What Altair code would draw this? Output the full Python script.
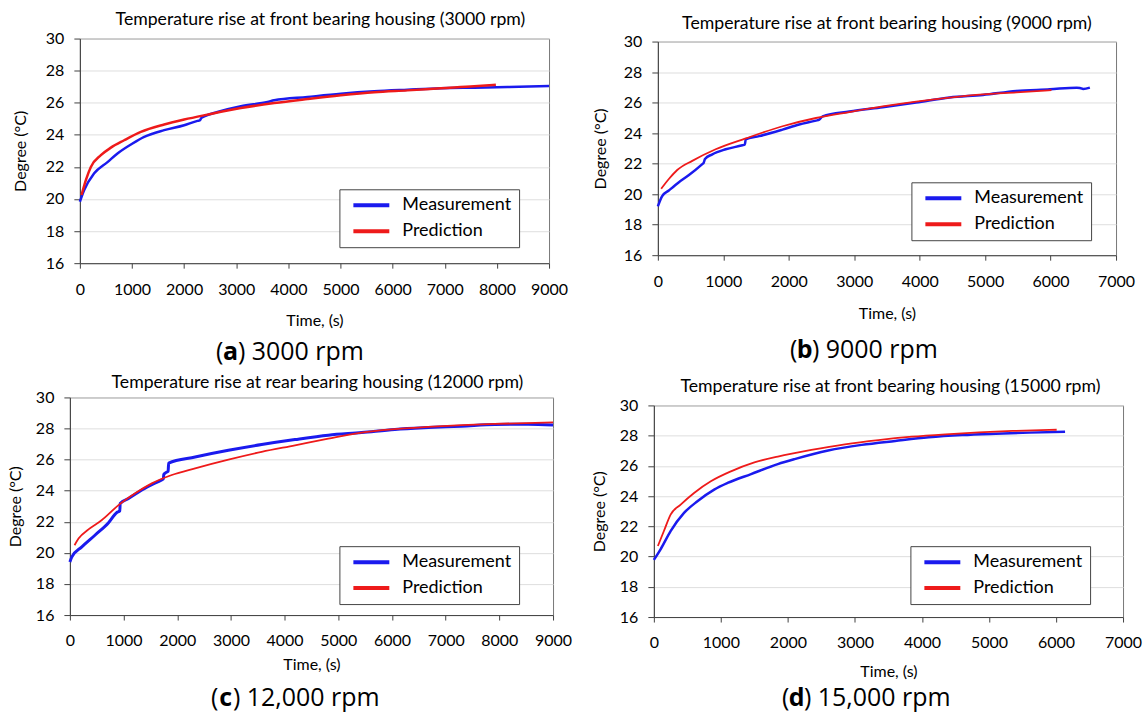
import altair as alt
import pandas as pd

SERIES = ["Measurement", "Prediction"]
COLORS = ["#1a1aee", "#ee1a1a"]

# ---------- (a) 3000 rpm ----------
a_meas_t = [0, 83, 275, 530, 722, 1010, 1234, 1617, 2001, 2257, 2300, 2330, 2385, 2640, 3088, 3600, 3728,
            4367, 5006, 5646, 6285, 6925, 7564, 8203, 9000]
a_meas_T = [19.83, 20.56, 21.6, 22.3, 22.84, 23.46, 23.87, 24.29, 24.6, 24.87, 24.9, 25.05, 25.15, 25.42,
            25.78, 26.05, 26.15, 26.36, 26.56, 26.71, 26.81, 26.9, 26.94, 26.98, 27.04]
a_pred_t = [32, 115, 211, 403, 595, 850, 1170, 1617, 2001, 2449, 3088, 3728, 4367, 5006, 5646, 6285,
            6925, 7564, 7980]
a_pred_T = [20.25, 21.18, 22.0, 22.73, 23.2, 23.66, 24.18, 24.64, 24.95, 25.26, 25.67, 25.98, 26.23,
            26.46, 26.65, 26.77, 26.9, 27.02, 27.12]

# ---------- (b) 9000 rpm ----------
b_meas_t = [0, 66, 168, 322, 475, 679, 700, 720, 832, 1036, 1291, 1330, 1342, 1547, 1904, 2159, 2415,
            2466, 2517, 2925, 3435, 3946, 4456, 4967, 5477, 5988, 6400, 6447, 6498, 6600]
b_meas_T = [19.2, 19.87, 20.24, 20.78, 21.25, 21.97, 22.05, 22.3, 22.61, 22.94, 23.2, 23.25, 23.59,
            23.8, 24.23, 24.56, 24.82, 24.88, 25.1, 25.42, 25.7, 26.0, 26.33, 26.5, 26.76, 26.87, 26.98,
            26.96, 26.89, 26.98]
b_pred_t = [51, 168, 296, 526, 883, 1342, 1904, 2415, 2925, 3435, 3946, 4456, 4967, 5477, 6013]
b_pred_T = [20.35, 20.99, 21.58, 22.18, 22.94, 23.65, 24.45, 24.99, 25.38, 25.75, 26.07, 26.33, 26.54,
            26.67, 26.82]

# ---------- (c) 12,000 rpm ----------
c_meas_t = [0, 37, 223, 471, 720, 875, 930, 937, 1092, 1340, 1712, 1740, 1750, 1805, 1830, 1840, 2333,
            2953, 3573, 4193, 4814, 5434, 6054, 6675, 7295, 7915, 8535, 9000]
c_meas_T = [19.42, 19.74, 20.39, 21.15, 21.94, 22.6, 22.7, 23.18, 23.5, 24.04, 24.7, 24.75, 25.05, 25.2,
            25.25, 25.78, 26.17, 26.6, 26.97, 27.29, 27.57, 27.74, 27.94, 28.06, 28.15, 28.26, 28.28,
            28.22]
c_pred_t = [87, 161, 347, 596, 906, 1216, 1526, 1898, 2333, 2953, 3573, 4193, 4814, 5434, 6054, 6675,
            7295, 7915, 9000]
c_pred_T = [20.49, 20.92, 21.51, 22.11, 23.07, 23.83, 24.47, 25.01, 25.44, 26.0, 26.5, 26.92, 27.35,
            27.74, 27.96, 28.11, 28.22, 28.3, 28.39]

# ---------- (d) 15,000 rpm ----------
d_meas_t = [0, 100, 250, 450, 650, 900, 1100, 1450, 1850, 2100, 2600, 3100, 3600, 4100, 4600, 5100,
            5600, 6135]
d_meas_T = [19.78, 20.48, 21.69, 22.89, 23.66, 24.43, 24.87, 25.46, 26.12, 26.45, 27.02, 27.39, 27.65,
            27.89, 28.04, 28.13, 28.2, 28.26]
d_pred_t = [60, 150, 250, 400, 600, 850, 1150, 1500, 1850, 2350, 2850, 3350, 3850, 4350, 4850, 5350,
            6010]
d_pred_T = [20.7, 21.69, 22.78, 23.44, 24.21, 24.98, 25.64, 26.23, 26.62, 27.06, 27.43, 27.71, 27.93,
            28.09, 28.22, 28.31, 28.39]

Y_TICKS = [16, 18, 20, 22, 24, 26, 28, 30]

FONT = "Lato"
CAP_FONT = "Open Sans"
CAP_SIZE = 25
HALF_LETTER = 7.3


def panel(mt, mT, pt, pT, title, xmax, w, h, lx, ly, lpad, toff, tdx, xtp, ytx, letter, rest, cx, cdy,
          mw, pw, guard=None):
    df = pd.DataFrame({
        "t": mt + pt,
        "T": mT + pT,
        "series": ["Measurement"] * len(mt) + ["Prediction"] * len(pt),
    })
    color = alt.Color(
        "series:N",
        scale=alt.Scale(domain=SERIES, range=COLORS),
        legend=alt.Legend(
            orient="none", legendX=lx, legendY=ly, title=None,
            strokeColor="#444444", fillColor="white", padding=7, cornerRadius=0,
            labelFont=FONT, labelFontSize=18, labelColor="black",
            labelExpr="datum.label + '" + lpad + "'",
            symbolType="M-1,0H5", symbolStrokeWidth=4, symbolSize=144, symbolOffset=4,
            rowPadding=8, labelOffset=34,
        ),
    )
    x = alt.X("t:Q", scale=alt.Scale(domain=[0, xmax], nice=False),
              axis=alt.Axis(values=list(range(0, xmax + 1, 1000)), format="d", title="Time, (s)",
                            titlePadding=xtp, grid=False, tickSize=5, labelPadding=13))
    y = alt.Y("T:Q", scale=alt.Scale(domain=[16, 30], nice=False, zero=False),
              axis=alt.Axis(values=Y_TICKS, format="d", title="Degree (°C)", grid=True, tickSize=6,
                            labelPadding=10, titleX=ytx))
    base = alt.Chart(df)
    meas = base.transform_filter(alt.datum.series == "Measurement").mark_line(
        strokeWidth=mw, interpolate="monotone").encode(x=x, y=y, color=color)
    pred = base.transform_filter(alt.datum.series == "Prediction").mark_line(
        strokeWidth=pw, interpolate="monotone").encode(x=x, y=y, color=color)

    cap_df = pd.DataFrame({"l": [letter], "r": [rest], "o": ["("]})
    cbase = alt.Chart(cap_df)
    c_open = cbase.mark_text(align="right", baseline="middle", font=CAP_FONT, fontSize=CAP_SIZE,
                             color="black").encode(text="o:N", x=alt.value(cx - HALF_LETTER),
                                                   y=alt.value(h + cdy))
    c_let = cbase.mark_text(align="center", baseline="middle", font=CAP_FONT, fontSize=CAP_SIZE,
                            fontWeight="bold", color="black").encode(text="l:N", x=alt.value(cx),
                                                                     y=alt.value(h + cdy))
    c_rest = cbase.mark_text(align="left", baseline="middle", font=CAP_FONT, fontSize=CAP_SIZE,
                             color="black").encode(text="r:N", x=alt.value(cx + HALF_LETTER),
                                                   y=alt.value(h + cdy))
    layers = [meas, pred, c_open, c_let, c_rest]
    if guard is not None:
        # invisible layout guard that fixes the left extent of the panel's bounds
        layers.append(cbase.mark_rule(opacity=0).encode(
            x=alt.value(guard), x2=alt.value(guard + 1), y=alt.value(h / 2)))
    return alt.layer(*layers).properties(
        width=w, height=h,
        title=alt.TitleParams(title, font=FONT, fontSize=17.7, fontWeight="normal", color="black",
                              offset=toff, frame="group", dx=tdx),
    )


def spacer(w, h):
    return alt.Chart(pd.DataFrame({"v": [0]})).mark_point(opacity=0, size=1).encode(
        x=alt.X("v:Q", axis=None), y=alt.Y("v:Q", axis=None)
    ).properties(width=w, height=h, view=alt.ViewBackground(stroke="transparent"))


def indep(ch):
    return ch.resolve_scale(color="independent").resolve_legend(color="independent")


pa = panel(a_meas_t, a_meas_T, a_pred_t, a_pred_T,
           "Temperature rise at front bearing housing (3000 rpm)", 9000, 470, 225,
           260, 151, "  ", 2, 6, 15, -51, "a", ") 3000 rpm", 151, 89, 2.5, 2.5, guard=-73)
pb = panel(b_meas_t, b_meas_T, b_pred_t, b_pred_T,
           "Temperature rise at front bearing housing (9000 rpm)", 7000, 459, 214,
           254, 141, "", 1, 0, 16, -49, "b", ") 9000 rpm", 147, 95, 2.5, 1.8)
pc = panel(c_meas_t, c_meas_T, c_pred_t, c_pred_T,
           "Temperature rise at rear bearing housing (12000 rpm)", 9000, 484, 218,
           270, 149, " ", -2.5, 6, 8, -46, "c", ") 12,000 rpm", 156, 83, 3, 1.8, guard=-63)
pd_ = panel(d_meas_t, d_meas_T, d_pred_t, d_pred_T,
            "Temperature rise at front bearing housing (15000 rpm)", 7000, 470, 212,
            257, 141, " ", 1.5, 2, 13, -46, "d", ") 15,000 rpm", 143, 81, 2.5, 1.8)

# row 1: a starts 10 px right of c, b starts 109 px after a and 4 px lower
b_v = indep(alt.vconcat(spacer(1, 1), pb, spacing=2, bounds="flush"))
b_wrap = indep(alt.hconcat(spacer(1, 1), b_v, spacing=99, bounds="flush"))
row1 = indep(alt.hconcat(spacer(1, 1), pa, b_wrap, spacing=9, bounds="flush"))
# row 2: d starts 101 px after c and 8 px lower
d_wrap = indep(alt.vconcat(spacer(1, 1), pd_, spacing=7, bounds="flush"))
row2 = indep(alt.hconcat(pc, d_wrap, spacing=101, bounds="flush"))

chart = indep(alt.vconcat(row1, row2, spacing=7.5)).properties(
    padding={"left": 6, "top": 9, "right": 0, "bottom": 2},
    background="white",
).configure_view(
    stroke="#777777", strokeWidth=1
).configure_axis(
    labelFont=FONT, labelFontSize=16, labelColor="black",
    titleFont=FONT, titleFontSize=16, titleFontWeight="normal", titleColor="black",
    domainColor="#404040", tickColor="#404040", gridColor="#dedede",
    labelFlush=False, labelOverlap=False,
)

chart.save("out.html", embed_options={"renderer": "svg", "actions": False})
